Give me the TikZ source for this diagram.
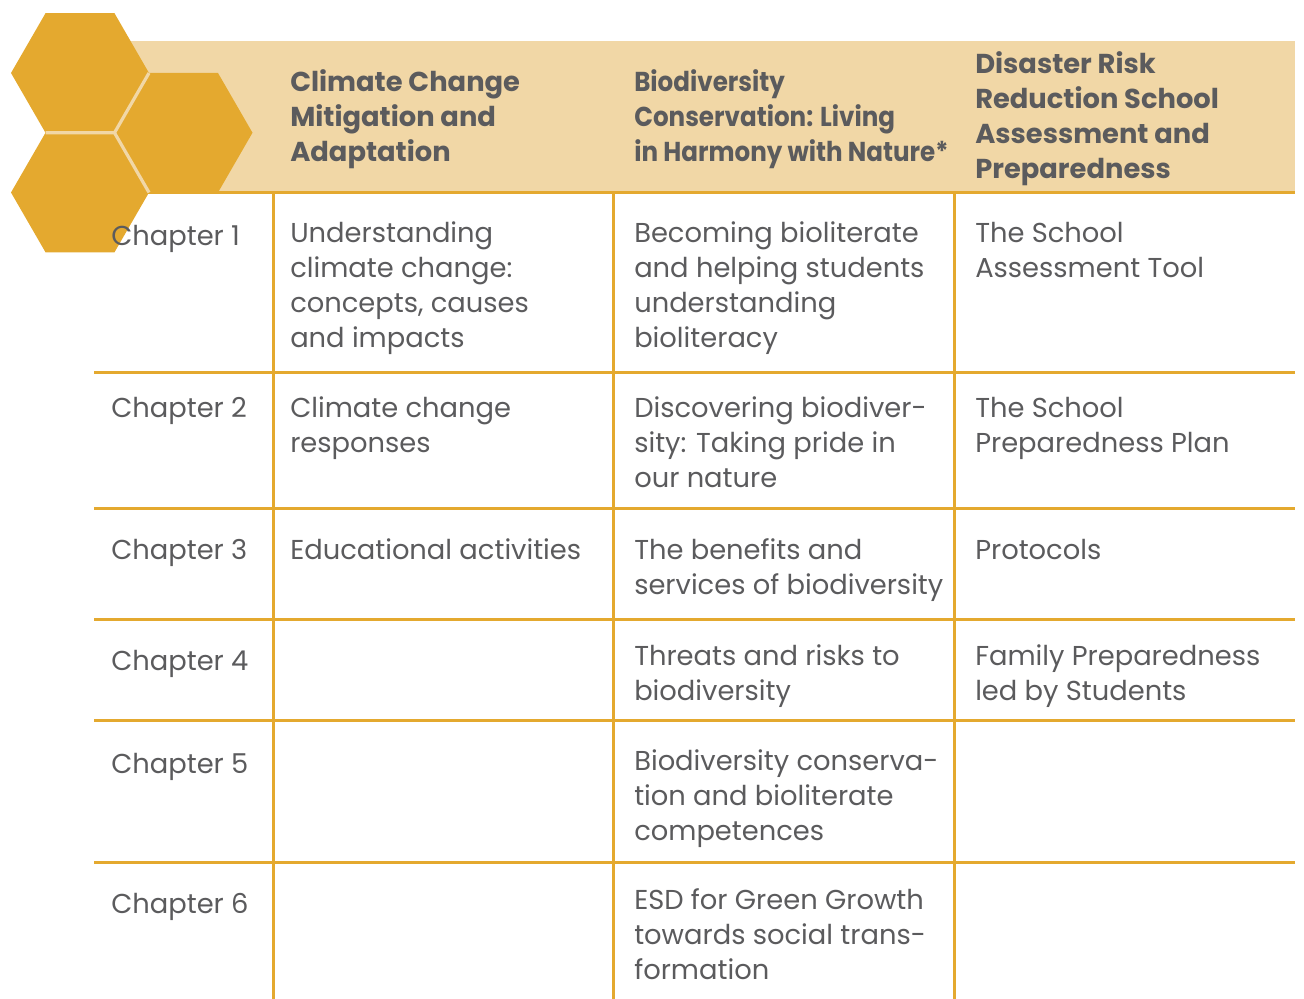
\documentclass[tikz,border=0pt]{standalone}
\usepackage{fontspec}
\setmainfont{Poppins}
\newfontfamily\condfont[FakeStretch=0.9]{Poppins}
\definecolor{gold}{HTML}{E4A92F}
\definecolor{hdrbg}{HTML}{F1D7A6}
\definecolor{txt}{HTML}{5B5B5D}
\newcommand{\cellx}[1]{\begin{tabular}[t]{@{}l@{}}#1\end{tabular}}
\tikzset{
  grid/.style={draw=gold, line width=2.25pt},
  gapline/.style={draw=hdrbg, line width=2.4pt},
  body/.style={anchor=base west, inner sep=0pt, text=txt, font=\fontsize{20.5pt}{26.25pt}\selectfont},
  head/.style={anchor=base west, inner sep=0pt, text=txt, font=\fontsize{20.5pt}{26.25pt}\selectfont\bfseries},
  condhead/.style={anchor=base west, inner sep=0pt, text=txt, font=\condfont\fontsize{20.5pt}{26.25pt}\selectfont\bfseries},
}
\begin{document}
\begin{tikzpicture}[x=0.75pt,y=-0.75pt]
\useasboundingbox (0,0) rectangle (1304,999);
% header background
\fill[hdrbg] (128,41) rectangle (1295,192);
% grid
\draw[grid] (128,192) -- (1295,192);
\foreach \yy in {372,508,619,720.5,862}
  \draw[grid] (94,\yy) -- (1295,\yy);
\foreach \xx in {273,613,954}
  \draw[grid] (\xx,192) -- (\xx,999);
% hexagons
\foreach \cx/\cy in {80/73, 80/192.5, 183.5/132.75}
  \fill[gold] ({\cx-69},\cy) -- ({\cx-34.5},{\cy-59.76}) -- ({\cx+34.5},{\cy-59.76})
     -- ({\cx+69},\cy) -- ({\cx+34.5},{\cy+59.76}) -- ({\cx-34.5},{\cy+59.76}) -- cycle;
\draw[gapline] (45.5,132.76) -- (114.5,132.76) -- (149,73);
\draw[gapline] (114.5,132.76) -- (149,192.5);
% header texts
\node[head] (h1) at (290,92) {\cellx{Climate Change\\Mitigation and\\Adaptation}};
\node[condhead] (h2) at (634,92) {\cellx{Biodiversity\\Conservation: Living\\in Harmony with Nature*}};
\node[head] (h3) at (975,74) {\cellx{Disaster Risk\\Reduction School\\Assessment and\\Preparedness}};
% chapter labels
\node[body] (ch1) at (111,245) {Chapter 1};
\node[body] (ch2) at (111,417) {Chapter 2};
\node[body] (ch3) at (111,559) {Chapter 3};
\node[body] (ch4) at (111,670) {Chapter 4};
\node[body] (ch5) at (111,773) {Chapter 5};
\node[body] (ch6) at (111,913) {Chapter 6};
% column 1
\node[body] (a1) at (290,242) {\cellx{Understanding\\climate change:\\concepts, causes\\and impacts}};
\node[body] (a2) at (290,417) {\cellx{Climate change\\responses}};
\node[body] (a3) at (290,559) {Educational activities};
% column 2
\node[body] (b1) at (634,242) {\cellx{Becoming bioliterate\\and helping students\\understanding\\bioliteracy}};
\node[body] (b2) at (634,417) {\cellx{Discovering biodiver-\\sity: Taking pride in\\our nature}};
\node[body] (b3) at (634,559) {\cellx{The benefits and\\services of biodiversity}};
\node[body] (b4) at (634,665) {\cellx{Threats and risks to\\biodiversity}};
\node[body] (b5) at (634,770) {\cellx{Biodiversity conserva-\\tion and bioliterate\\competences}};
\node[body] (b6) at (634,909.5) {\cellx{ESD for Green Growth\\towards social trans-\\formation}};
% column 3
\node[body] (c1) at (975,242) {\cellx{The School\\Assessment Tool}};
\node[body] (c2) at (975,417) {\cellx{The School\\Preparedness Plan}};
\node[body] (c3) at (975,559) {Protocols};
\node[body] (c4) at (975,665) {\cellx{Family Preparedness\\led by Students}};
\end{tikzpicture}
\end{document}
